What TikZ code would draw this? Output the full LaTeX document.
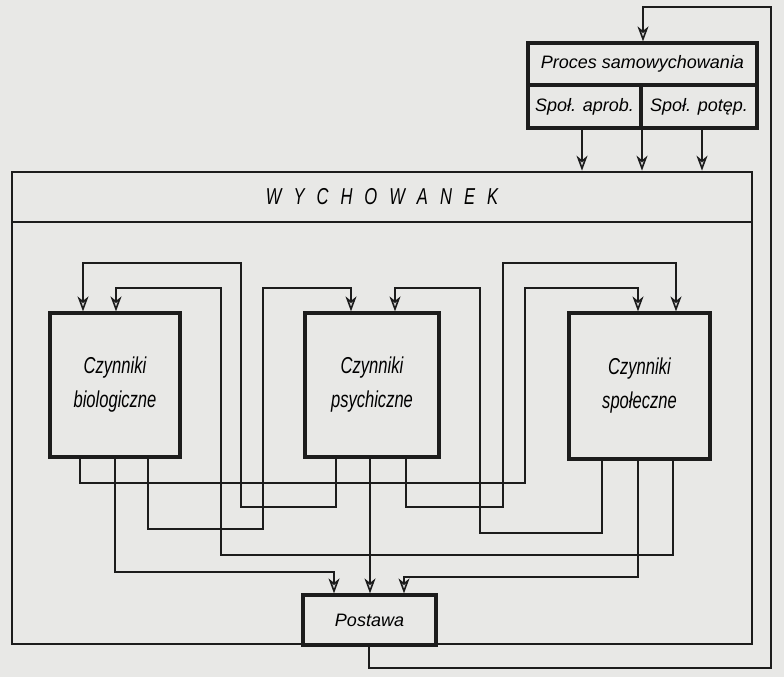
\documentclass[tikz,border=0pt]{standalone}
\usepackage{fontspec}
\newfontfamily\dinfont{Liberation Sans}[FakeStretch=0.72]
\newfontfamily\dinwide{Liberation Sans}
\usetikzlibrary{arrows.meta,calc}
\definecolor{paper}{RGB}{232,232,230}
\definecolor{ink}{RGB}{28,28,28}
\newcommand\lgp{\hspace{12pt}}
\tikzset{
  boxnode/.style={draw=ink, line width=3.2pt, inner sep=0pt, align=center},
  frame/.style={draw=ink, line width=2.6pt, inner sep=0pt},
  conn/.style={draw=ink, line width=2.2pt, line join=miter},
  tip/.style={-{Stealth[length=15pt,width=11pt,inset=4.5pt,fill=gray!35,line width=1.6pt]}},
  czfont/.style={font=\dinfont\itshape\fontsize{23}{34}\selectfont},
  smfont/.style={font=\dinwide\itshape\fontsize{18}{20}\selectfont},
}
\begin{document}
\begin{tikzpicture}[x=1pt,y=-1pt]
\useasboundingbox[fill=paper] (0,0) rectangle (784,677);

% Proces samowychowania box
\node[boxnode, smfont, minimum width=229pt, minimum height=42pt] (proc) at (642.5,64) {Proces samowychowania};
\node[boxnode, smfont, minimum width=113pt, minimum height=43pt] (apr) at (584.5,106.5) {Społ. aprob.};
\node[boxnode, smfont, minimum width=116pt, minimum height=43pt] (pot) at (699,106.5) {Społ. potęp.};

% WYCHOWANEK frame
\node[frame, minimum width=740pt, minimum height=472pt] (wych) at (382,408) {};
\node[frame, font=\dinfont\itshape\fontsize{23}{26}\selectfont, minimum width=740pt, minimum height=50pt] (head) at (382,197)
  {W\lgp Y\lgp C\lgp H\lgp O\lgp W\lgp A\lgp N\lgp E\lgp K};

% factor boxes
\node[boxnode, czfont, minimum width=130pt, minimum height=144pt] (bio) at (115,385) {Czynniki\\biologiczne};
\node[boxnode, czfont, minimum width=134pt, minimum height=144pt] (psy) at (372,385) {Czynniki\\psychiczne};
\node[boxnode, czfont, minimum width=141pt, minimum height=146pt] (soc) at (639.5,386) {Czynniki\\społeczne};

% Postawa
\node[boxnode, font=\dinwide\itshape\fontsize{18}{20}\selectfont, minimum width=133pt, minimum height=50pt] (pos) at (369.5,620) {Postawa};

% Proces -> Wychowanek
\draw[conn, tip] (apr.south -| 582,0) -- (wych.north -| 582,0);
\draw[conn, tip] (apr.south -| 642,0) -- (wych.north -| 642,0);
\draw[conn, tip] (pot.south -| 702,0) -- (wych.north -| 702,0);

% interconnections between factors
% psych -> bio
\draw[conn, tip] (psy.south -| 336,0) -- (336,507) -- (241,507) -- (241,263) -- (83,263) -- (bio.north -| 83,0);
% social -> bio
\draw[conn, tip] (soc.south -| 673,0) -- (673,555) -- (221,555) -- (221,288) -- (116,288) -- (bio.north -| 116,0);
% bio -> psych
\draw[conn, tip] (bio.south -| 148,0) -- (148,529) -- (263,529) -- (263,288) -- (351,288) -- (psy.north -| 351,0);
% social -> psych
\draw[conn, tip] (soc.south -| 602,0) -- (602,533) -- (480,533) -- (480,288) -- (395,288) -- (psy.north -| 395,0);
% bio -> social
\draw[conn, tip] (bio.south -| 80,0) -- (80,483) -- (525,483) -- (525,288) -- (638,288) -- (soc.north -| 638,0);
% psych -> social
\draw[conn, tip] (psy.south -| 406,0) -- (406,507) -- (503,507) -- (503,263) -- (676,263) -- (soc.north -| 676,0);

% factors -> Postawa
\draw[conn, line width=2.8pt, tip] (bio.south -| 115,0) -- (115,572) -- (334,572) -- (pos.north -| 334,0);
\draw[conn, line width=2.8pt, tip] (psy.south -| 370,0) -- (pos.north -| 370,0);
\draw[conn, line width=2.8pt, tip] (soc.south -| 638,0) -- (638,577) -- (404,577) -- (pos.north -| 404,0);

% feedback Postawa -> Proces
\coordinate (fb1) at (369,668);
\coordinate (fb2) at (771,668);
\coordinate (fb3) at (771,7);
\coordinate (fb4) at (643,7);
\draw[conn, tip] (pos.south -| 369,0) -- (fb1) -- (fb2) -- (fb3) -- (fb4) -- (proc.north -| 643,0);
\end{tikzpicture}
\end{document}
